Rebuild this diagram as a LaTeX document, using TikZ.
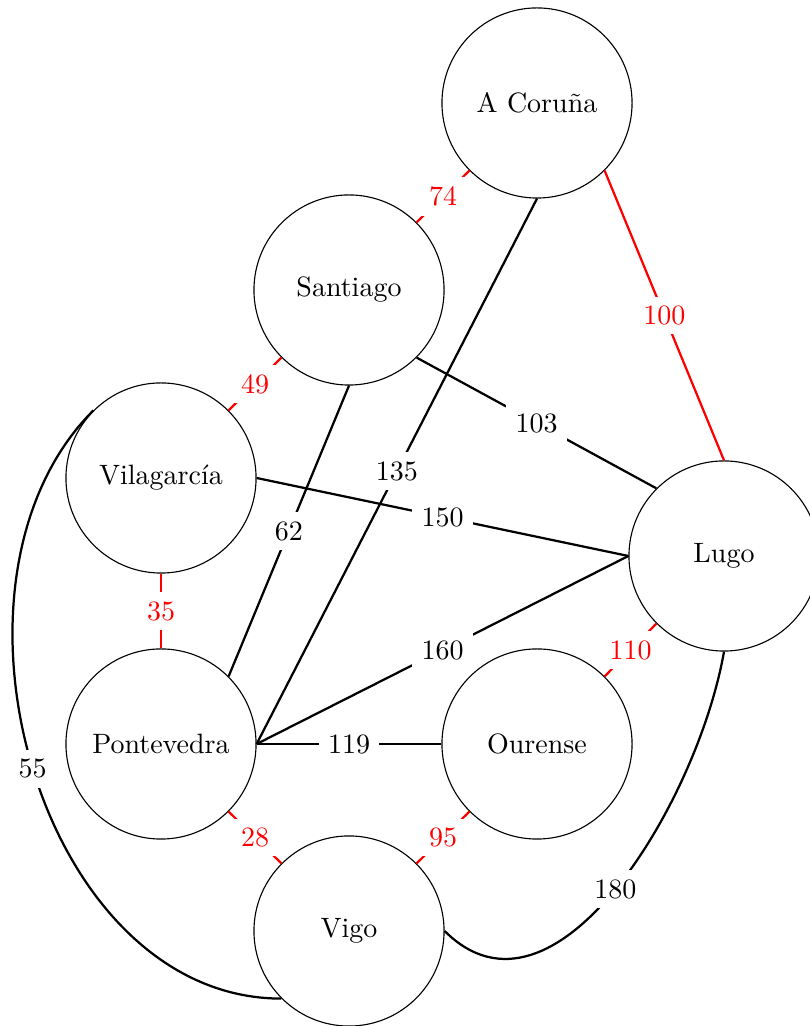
\documentclass[tikz,border=0pt]{standalone}
\usetikzlibrary{topaths}
\begin{document}
\begin{tikzpicture}[x=0.35714pt, y=0.35714pt,
  city/.style={circle, draw, line width=0.4pt, minimum size=67.9pt, inner sep=0pt},
  road/.style={line width=0.8pt, black},
  redroad/.style={line width=0.8pt, red},
  lbl/.style={fill=white, text=black},
  redlbl/.style={fill=white, text=red}]
\useasboundingbox (0,0) rectangle (809,1026);
\node[city] (AC) at (537,923) {A Coruña};
\node[city] (S)  at (349,736) {Santiago};
\node[city] (Vi) at (161,548) {Vilagarcía};
\node[city] (L)  at (724,470) {Lugo};
\node[city] (P)  at (161,282) {Pontevedra};
\node[city] (O)  at (537,282) {Ourense};
\node[city] (Vg) at (349,95)  {Vigo};

\draw[redroad] (AC.south west) -- node[redlbl]{74} (S.north east);
\draw[redroad] (AC.south east) -- node[redlbl]{100} (L.north);
\draw[road] (AC.south) -- node[lbl]{135} (P.east);
\draw[redroad] (S.south west) -- node[redlbl]{49} (Vi.north east);
\draw[road] (S.south east) -- node[lbl]{103} (L.north west);
\draw[road] (S.south) -- node[lbl]{62} (P.north east);
\draw[road] (Vi.east) -- node[lbl]{150} (L.west);
\draw[redroad] (Vi.south) -- node[redlbl]{35} (P.north);
\draw[road] (Vi.north west) to[out=225, in=180] node[lbl]{55} (Vg.south west);
\draw[road] (P.east) -- node[lbl]{160} (L.west);
\draw[road] (P.east) -- node[lbl]{119} (O.west);
\draw[redroad] (P.south east) -- node[redlbl]{28} (Vg.north west);
\draw[redroad] (O.south west) -- node[redlbl]{95} (Vg.north east);
\draw[redroad] (O.north east) -- node[redlbl]{110} (L.south west);
\draw[road] (Vg.east) to[out=-45, in=-100] node[lbl]{180} (L.south);
\end{tikzpicture}
\end{document}
